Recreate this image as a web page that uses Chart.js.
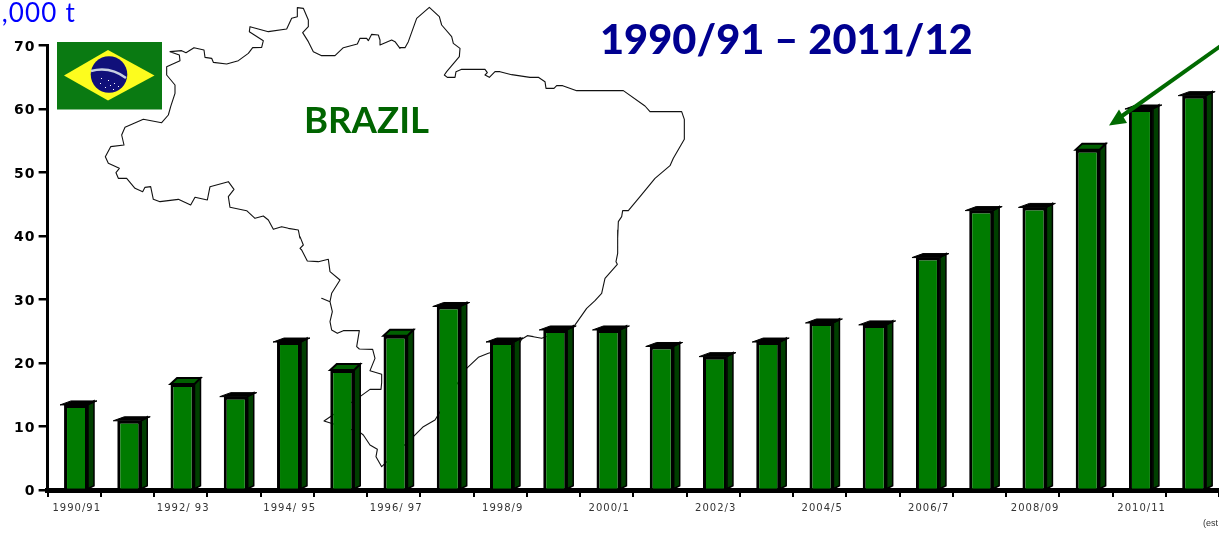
<!DOCTYPE html>
<html><head><meta charset="utf-8">
<script src="https://cdn.jsdelivr.net/npm/chart.js@4"></script>
<style>html,body{margin:0;padding:0;background:#fff;overflow:hidden}canvas{display:block}</style>
</head><body><canvas id="c" width="1219" height="533"></canvas>
<script>
const categories = ['1990/91','1991/92','1992/93','1993/94','1994/95','1995/96','1996/97','1997/98','1998/99','1999/00','2000/01','2001/02','2002/03','2003/04','2004/05','2005/06','2006/07','2007/08','2008/09','2009/10','2010/11','2011/12'];
const production = [13.4,10.9,16.7,14.7,23.3,18.9,24.3,28.9,23.3,25.2,25.2,22.6,21.0,23.3,26.3,26.0,36.6,44.0,44.5,53.6,60.0,62.1];
const tickLabels = ['1990/91','','1992/ 93','','1994/ 95','','1996/ 97','','1998/9','','2000/1','','2002/3','','2004/5','','2006/7','','2008/09','','2010/11',''];
const yTicks = [0,10,20,30,40,50,60,70];
const deepTopBars = ['1992/93','1995/96','1996/97','2009/10'];

const mapNorth = [[600,715],[595,690],[565,685],[545,680],[520,688],[505,660],[490,648],[465,655],[440,632],[390,622],[385,590],[402,568],[385,545],[330,560],[322,600],[285,592],[272,615],[235,598],[180,605],[160,598],[152,560],[135,562],[128,575],[105,565],[80,535],[55,535],[48,518],[58,505],[25,490],[16,470],[32,440],[72,435],[65,405],[75,382],[130,358],[185,368],[205,345],[212,320],[225,280],[225,255],[200,225],[200,200],[240,182],[238,165],[210,155],[245,152],[258,158],[282,143],[312,150],[315,172],[335,175],[340,187],[380,192],[415,182],[445,160],[458,143],[485,142],[490,122],[448,95],[450,80],[505,95],[560,87],[575,55],[592,50],[592,23],[610,25],[625,60],[625,80],[608,98],[625,125],[640,155],[665,167],[705,167],[730,143],[772,132],[780,115],[800,115],[805,122],[815,103],[835,105],[840,120],[840,135],[875,120],[885,125],[900,145]];
const mapEast = [[0,143],[15,143],[25,125],[50,55],[88,22],[118,50],[125,75],[155,110],[160,130],[180,145],[178,170],[140,215],[133,225],[142,232],[165,232],[168,215],[185,208],[255,208],[262,218],[255,225],[268,232],[285,215],[300,215],[335,224],[390,232],[415,232],[435,245],[438,265],[462,265],[470,257],[488,257],[530,272],[670,272],[735,318],[750,335],[845,335],[853,358],[853,418],[820,475],[810,497],[765,535],[720,590],[685,632],[668,632],[665,650],[655,665],[653,715]];
const mapSouth = [[953,0],[953,70],[948,95],[952,103],[915,145],[905,190],[885,212],[860,235],[820,292],[725,325],[700,320],[682,317],[665,328],[655,345],[565,370],[535,382],[500,415],[405,570],[370,590],[340,620],[245,710],[228,680],[232,658],[210,645],[190,615],[180,607],[72,573],[180,500],[210,478],[243,478],[245,458],[245,433],[210,422],[225,385],[218,358],[178,357],[170,350],[178,302],[130,302],[112,310],[95,300],[90,275],[97,245],[90,215],[65,205],[90,215],[95,190],[120,150],[90,125],[85,88],[55,95],[22,93],[5,60],[0,55],[10,45],[0,20]];

function drawMap(ctx){
  ctx.save();
  ctx.strokeStyle='#111';ctx.lineWidth=1.1;ctx.lineJoin='round';
  ctx.beginPath();
  let first=true;
  const add=(pts,ox,oy)=>pts.forEach(p=>{const x=ox+p[0]/3,y=oy+p[1]/3;if(first){ctx.moveTo(x,y);first=false}else ctx.lineTo(x,y)});
  add(mapNorth,100,0);add(mapEast,400,0);add(mapSouth,300,230);
  ctx.stroke();ctx.restore();
}
function drawFlag(ctx){
  ctx.save();
  ctx.fillStyle='#0a7a12';ctx.fillRect(57,42,105,67.5);
  ctx.fillStyle='#fdfc1e';ctx.beginPath();ctx.moveTo(64,75.5);ctx.lineTo(108,50);ctx.lineTo(154.5,75.5);ctx.lineTo(108,100.5);ctx.closePath();ctx.fill();
  ctx.fillStyle='#10107a';ctx.beginPath();ctx.arc(109,74.5,18.3,0,Math.PI*2);ctx.fill();
  ctx.strokeStyle='#c8d0e0';ctx.lineWidth=2.5;ctx.beginPath();ctx.moveTo(91,71);ctx.quadraticCurveTo(110,66,126,78);ctx.stroke();
  ctx.fillStyle='#fff';
  [[101,78],[108,80],[110,85],[114,83],[118,86],[105,87],[100,83],[113,89]].forEach(s=>ctx.fillRect(s[0],s[1],1,1));
  ctx.restore();
}
function drawArrow(ctx){
  ctx.save();
  ctx.strokeStyle='#006a00';ctx.fillStyle='#006a00';ctx.lineWidth=4;
  ctx.beginPath();ctx.moveTo(1222,45);ctx.lineTo(1122,116);ctx.stroke();
  ctx.beginPath();ctx.moveTo(1109,125.5);ctx.lineTo(1119,109.5);ctx.lineTo(1127,123);ctx.closePath();ctx.fill();
  ctx.restore();
}
const shift=1.8;
const decor={id:'decor',
  beforeDraw(c){c.ctx.letterSpacing='1px';},
  beforeDatasetsDraw(c){drawMap(c.ctx);c.ctx.save();c.ctx.translate(shift,0);},
  afterDatasetsDraw(c){
    const ctx=c.ctx;
    c.getDatasetMeta(0).data.forEach((b,i)=>{
      const r=b.x+b.width/2,l=b.x-b.width/2,t=b.y,base=b.base;
      const deep=deepTopBars.includes(categories[i]);
      const dy=deep?6:4;
      ctx.fillStyle='#003f00';ctx.strokeStyle='#000';ctx.lineWidth=1.5;
      ctx.beginPath();ctx.moveTo(r,t);ctx.lineTo(r+6,t-dy);ctx.lineTo(r+6,base-3);ctx.lineTo(r,base);ctx.closePath();ctx.fill();ctx.stroke();
      ctx.fillStyle=deep?'#006000':'#000';ctx.lineWidth=deep?2:1;
      ctx.beginPath();ctx.moveTo(deep?l:l-4,t);ctx.lineTo(r,t);ctx.lineTo(r+(deep?6:9),t-dy);ctx.lineTo(l+(deep?6.5:7),t-dy);ctx.closePath();ctx.fill();ctx.stroke();
    });
    ctx.restore();
  },
  afterDraw(c){
    const ctx=c.ctx;
    ctx.save();ctx.letterSpacing='0px';
    drawFlag(ctx);drawArrow(ctx);
    ctx.textBaseline='alphabetic';
    ctx.textAlign='left';ctx.fillStyle='#000090';ctx.font='900 41.6px Lato';ctx.fillText('1990/91 – 2011/12',600,54);
    ctx.fillStyle='#006400';ctx.font='bold 36.6px Lato';ctx.fillText('BRAZIL',304,133);
    ctx.textAlign='right';ctx.fillStyle='#0000ff';ctx.font='26px Lato';ctx.letterSpacing='1.2px';ctx.fillText('1,000 t',76,22);
    ctx.letterSpacing='0px';
    ctx.textAlign='left';ctx.fillStyle='#333';ctx.font='9px "Liberation Sans"';ctx.fillText('(est',1203,526);
    ctx.restore();
  }};
new Chart(document.getElementById('c'),{
  type:'bar',
  data:{labels:categories,datasets:[{data:production,backgroundColor:'#007b00',borderColor:'#000',borderWidth:3,barPercentage:0.45,categoryPercentage:1}]},
  options:{
    responsive:false,animation:false,devicePixelRatio:1,
    layout:{padding:{top:45.5,left:0,right:0,bottom:0}},
    plugins:{legend:{display:false},tooltip:{enabled:false},title:{display:false}},
    scales:{
      x:{
        afterFit(s){s.height=43;},
        border:{color:'#000',width:5},
        grid:{drawOnChartArea:false,color:'#000',lineWidth:2,tickLength:7,offset:true},
        ticks:{autoSkip:false,maxRotation:0,minRotation:0,padding:5,labelOffset:2.5,color:'#333',font:{family:'DejaVu Sans',size:10},callback:(v,i)=>tickLabels[i]}
      },
      y:{
        min:0,max:70,
        afterFit(s){s.width=47.6;},
        afterBuildTicks(s){s.ticks=yTicks.map(v=>({value:v}));},
        border:{color:'#000',width:3},
        grid:{drawOnChartArea:false,color:'#000',lineWidth:2.5,tickLength:9},
        ticks:{padding:3,labelOffset:1.5,color:'#000',font:{family:'DejaVu Sans',size:14,weight:'bold'}}
      }
    }
  },
  plugins:[decor]
});
</script></body></html>
